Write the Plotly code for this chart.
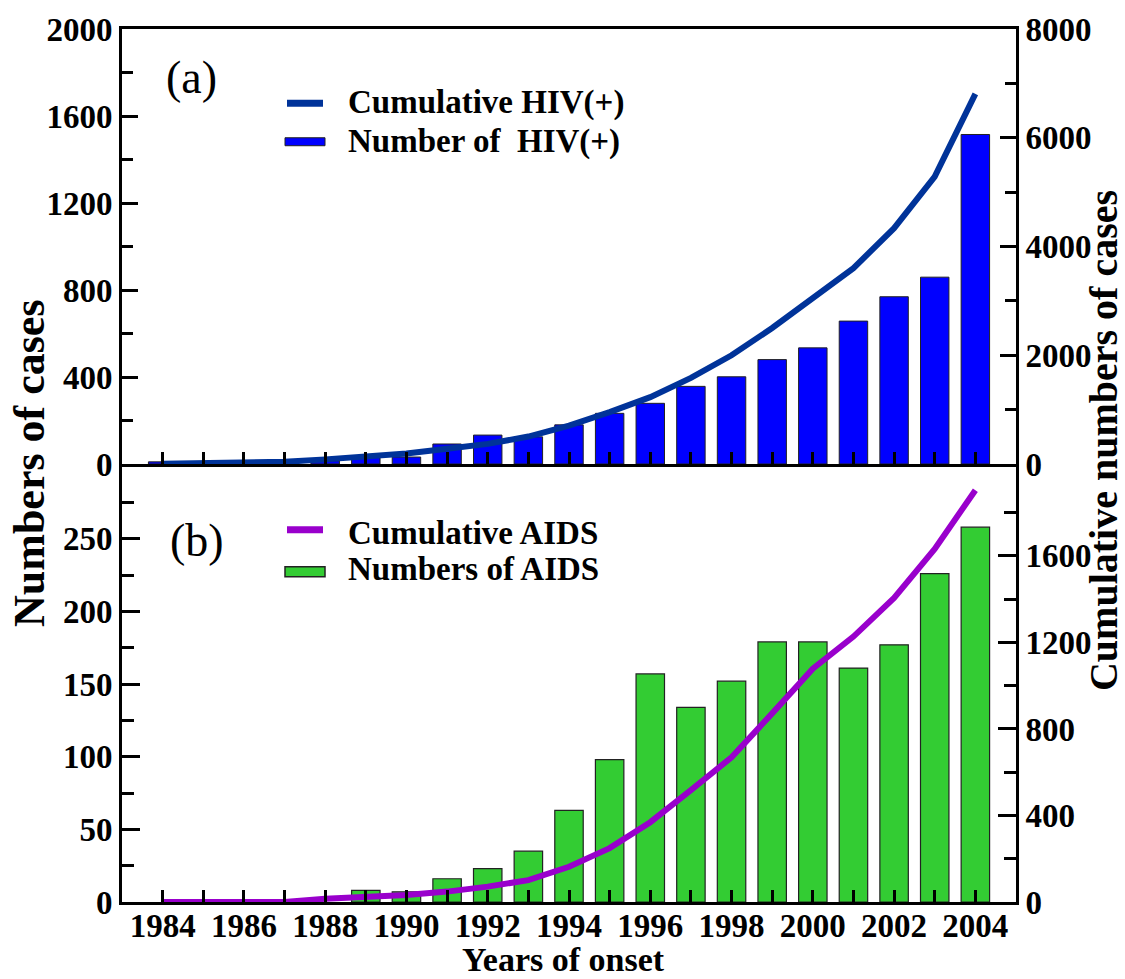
import plotly.graph_objects as go

years = list(range(1984, 2005))
hiv_new = [10, 5, 5, 8, 15, 30, 32, 92, 133, 125, 180, 233, 279, 357, 401, 480, 534, 657, 769, 859, 1515]
hiv_cum = [5, 12, 22, 40, 85, 135, 195, 280, 370, 505, 705, 955, 1229, 1584, 2000, 2501, 3046, 3602, 4336, 5284, 6807]
aids_new = [None, None, None, None, None, 8, 7, 16, 23, 35, 63, 98, 157, 134, 152, 179, 179, 161, 177, 226, 258]
aids_cum = [0, 0, 0, 0, 15, 22, 32, 48, 71, 101, 163, 249, 369, 517, 669, 872, 1079, 1227, 1406, 1632, 1904]
x_ticktext = [str(y) if y % 2 == 0 else "" for y in years]

W, H = 1125, 979
L, R, T, B = 122, 1016, 27, 902
SPLIT = 463

def px(x):
    return (x - L) / (R - L)

def py(y):
    return (B - y) / (B - T)

split = py(SPLIT)
FONT = "Liberation Serif"
tickfont = dict(family=FONT, size=33, color="black", weight="bold")

fig = go.Figure()
fig.add_trace(go.Bar(x=years, y=hiv_new, xaxis="x2", yaxis="y3", width=0.7,
                     marker=dict(color="#0000FF", line=dict(color="#222222", width=1)),
                     name="Number of  HIV(+)"))
fig.add_trace(go.Scatter(x=years, y=hiv_cum, xaxis="x2", yaxis="y4", mode="lines",
                         line=dict(color="#003399", width=6), name="Cumulative HIV(+)"))
fig.add_trace(go.Bar(x=years, y=aids_new, xaxis="x", yaxis="y", width=0.7,
                     marker=dict(color="#33CC33", line=dict(color="#222222", width=1.2)),
                     name="Numbers of AIDS"))
fig.add_trace(go.Scatter(x=years, y=aids_cum, xaxis="x", yaxis="y2", mode="lines",
                         line=dict(color="#9900CC", width=6), name="Cumulative AIDS"))

axline = dict(showline=True, linewidth=3, linecolor="black", showgrid=False, zeroline=False,
              ticks="inside", tickwidth=3, tickcolor="black", tickfont=tickfont)

fig.update_layout(
    width=W, height=H, showlegend=False,
    plot_bgcolor="white", paper_bgcolor="white",
    margin=dict(l=L, r=W - R, t=T, b=H - B),
    bargap=0.3,
    xaxis=dict(domain=[0, 1], anchor="y", range=[1983, 2005], tickvals=years, ticktext=x_ticktext,
               ticklen=12, ticklabelstandoff=-8, **axline),
    xaxis2=dict(domain=[0, 1], anchor="y3", matches="x", range=[1983, 2005], tickvals=years,
                showticklabels=False, ticklen=12, mirror=True, **axline),
    yaxis=dict(domain=[0, split], anchor="x", range=[0, 301.5], tickvals=[0, 50, 100, 150, 200, 250],
               ticklen=18, minor=dict(tickvals=[25, 75, 125, 175, 225, 275], ticklen=12, tickwidth=3,
                                       ticks="inside", tickcolor="black"), **axline),
    yaxis2=dict(overlaying="y", side="right", anchor="x", range=[0, 2025],
                tickvals=[0, 400, 800, 1200, 1600], ticklen=18,
                minor=dict(tickvals=[200, 600, 1000, 1400, 1800], ticklen=12, tickwidth=3,
                           ticks="inside", tickcolor="black"), **axline),
    yaxis3=dict(domain=[split, 1], anchor="x2", range=[0, 2000], tickvals=[0, 400, 800, 1200, 1600, 2000],
                ticklen=16, minor=dict(tickvals=[200, 600, 1000, 1400, 1800], ticklen=11, tickwidth=3,
                                        ticks="inside", tickcolor="black"), **axline),
    yaxis4=dict(overlaying="y3", side="right", anchor="x2", range=[0, 8000],
                tickvals=[0, 2000, 4000, 6000, 8000], ticklen=16,
                minor=dict(tickvals=[1000, 3000, 5000, 7000], ticklen=11, tickwidth=3,
                           ticks="inside", tickcolor="black"), **axline),
)

shapes = [
    dict(type="line", xref="paper", yref="paper", x0=px(287), x1=px(323), y0=py(101.5), y1=py(101.5),
         line=dict(color="#003399", width=7)),
    dict(type="rect", xref="paper", yref="paper", x0=px(285), x1=px(325), y0=py(136), y1=py(144),
         fillcolor="#0000FF", line=dict(color="#222222", width=1)),
    dict(type="line", xref="paper", yref="paper", x0=px(287), x1=px(323), y0=py(529), y1=py(529),
         line=dict(color="#9900CC", width=7)),
    dict(type="rect", xref="paper", yref="paper", x0=px(285), x1=px(325), y0=py(566), y1=py(576),
         fillcolor="#33CC33", line=dict(color="#222222", width=1.5)),
]
fig.update_layout(shapes=shapes)

legfont = dict(family=FONT, size=33, color="black", weight="bold")
ann = [
    dict(text="Cumulative HIV(+)", x=px(346), y=py(101), xanchor="left", yanchor="middle", font=legfont),
    dict(text="Number of  HIV(+)", x=px(346), y=py(140), xanchor="left", yanchor="middle", font=legfont),
    dict(text="Cumulative AIDS", x=px(346), y=py(532), xanchor="left", yanchor="middle", font=legfont),
    dict(text="Numbers of AIDS", x=px(346), y=py(568), xanchor="left", yanchor="middle", font=legfont),
    dict(text="(a)", x=px(191), y=py(76), xanchor="center", yanchor="middle",
         font=dict(family=FONT, size=46, color="black")),
    dict(text="(b)", x=px(197), y=py(540), xanchor="center", yanchor="middle",
         font=dict(family=FONT, size=46, color="black")),
    dict(text="Numbers of cases", x=px(29), y=py(462), xanchor="center", yanchor="middle", textangle=-90,
         font=dict(family=FONT, size=44, color="black", weight="bold")),
    dict(text="Cumulative numbers of cases", x=px(1103), y=py(440), xanchor="center", yanchor="middle",
         textangle=-90, font=dict(family=FONT, size=40, color="black", weight="bold")),
    dict(text="Years of onset", x=px(563), y=py(960), xanchor="center", yanchor="middle",
         font=dict(family=FONT, size=34, color="black", weight="bold")),
]
for a in ann:
    a.update(xref="paper", yref="paper", showarrow=False)
fig.update_layout(annotations=ann)

fig.write_html("out.html")
